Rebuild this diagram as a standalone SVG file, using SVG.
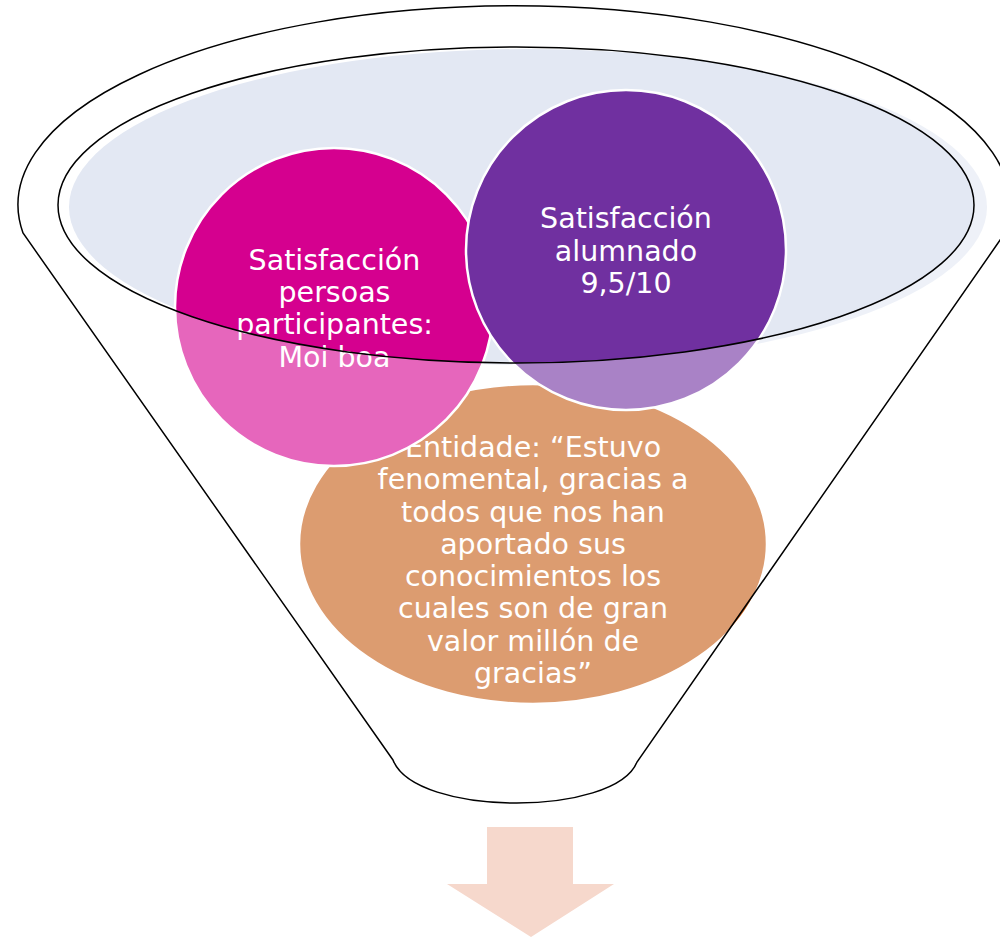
<svg xmlns="http://www.w3.org/2000/svg" width="1000" height="937" viewBox="0 0 1000 937">
<style>
.t{font-family:"DejaVu Sans",sans-serif;font-size:28.5px;fill:#FFFFFF;text-anchor:middle}
.ring{stroke:#FFFFFF;stroke-width:2.5}
.ln{fill:none;stroke:#000000;stroke-width:1.5}
</style>
<rect width="1000" height="937" fill="#FFFFFF"/>
<g id="bowl">
<ellipse cx="528" cy="207" rx="459" ry="158" fill="#E3E8F3"/>
</g>
<g id="node-entidade">
<ellipse class="ring" cx="533" cy="544" rx="234" ry="160" fill="#C55A11"/>
<text class="t" x="533" y="457">Entidade: “Estuvo</text>
<text class="t" x="533" y="489">fenomental, gracias a</text>
<text class="t" x="533" y="522">todos que nos han</text>
<text class="t" x="533" y="554">aportado sus</text>
<text class="t" x="533" y="586">conocimientos los</text>
<text class="t" x="533" y="618">cuales son de gran</text>
<text class="t" x="533" y="651">valor millón de</text>
<text class="t" x="533" y="683">gracias”</text>
</g>
<g id="node-participantes">
<circle class="ring" cx="334" cy="307" r="159" fill="#D5008F"/>
<text class="t" x="334.5" y="270">Satisfacción</text>
<text class="t" x="334.5" y="302">persoas</text>
<text class="t" x="334.5" y="334">participantes:</text>
<text class="t" x="334.5" y="367">Moi boa</text>
</g>
<g id="node-alumnado">
<circle class="ring" cx="626" cy="250" r="160" fill="#7030A0"/>
<text class="t" x="626" y="228">Satisfacción</text>
<text class="t" x="626" y="261">alumnado</text>
<text class="t" x="626" y="293">9,5/10</text>
</g>
<g id="funnel">
<path fill="#FFFFFF" fill-opacity="0.4" fill-rule="evenodd" d="M 393 760 L 23 233 A 496 199 0 1 1 1005 233 L 637 762 C 615 817 415 817 393 760 Z M 58 205 A 458 158 0 1 0 974 205 A 458 158 0 1 0 58 205 Z"/>
<path class="ln" d="M 393 760 L 23 233 A 496 199 0 1 1 1005 233 L 637 762 C 615 817 415 817 393 760 Z"/>
<ellipse class="ln" cx="516" cy="205" rx="458" ry="158"/>
</g>
<g id="arrow">
<polygon points="487,827 573,827 573,884 614,884 531,937 447,884 487,884" fill="#F6D8CC"/>
</g>
</svg>
